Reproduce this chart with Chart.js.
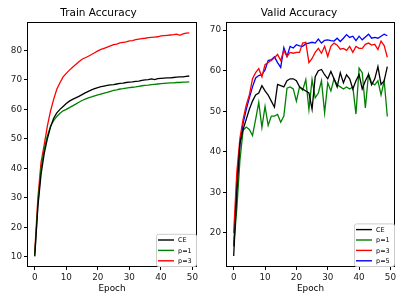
<!DOCTYPE html>
<html>
<head>
<meta charset="utf-8">
<script src="https://cdn.jsdelivr.net/npm/chart.js@4/dist/chart.umd.min.js"></script>
<style>
  html, body { margin: 0; padding: 0; background: #fff; }
  #wrap { position: relative; width: 407px; height: 305px; }
  #train { position: absolute; left: 0; top: 0; }
  #valid { position: absolute; left: 203px; top: 0; }
</style>
</head>
<body>
<div id="wrap">
  <canvas id="train" width="203" height="305"></canvas>
  <canvas id="valid" width="204" height="305"></canvas>
</div>
<script>
// epochs on the x axis
const epochs = [0,1,2,3,4,5,6,7,8,9,10,11,12,13,14,15,16,17,18,19,20,21,22,23,24,
  25,26,27,28,29,30,31,32,33,34,35,36,37,38,39,40,41,42,43,44,45,46,47,48,49];

// train accuracy
const trainCE = [10.2,27,38,45,50,54,57,58.8,60,61,62,62.8,63.4,63.9,64.4,65,65.6,66.1,66.6,67,
  67.4,67.7,67.9,68.1,68.3,68.4,68.6,68.8,68.9,69.1,69.2,69.3,69.5,69.6,69.8,70,70.1,70.3,70.1,70.4,
  70.5,70.6,70.7,70.7,70.8,70.9,71,71,71.2,71.3];
const trainP1 = [10.5,28,40,46.5,51,54.3,56.2,57.6,58.7,59.5,60,60.6,61.2,61.8,62.4,63,63.5,63.9,64.2,64.6,
  64.9,65.2,65.5,65.8,66.1,66.4,66.6,66.9,67,67.2,67.4,67.5,67.6,67.8,68,68.1,68.2,68.4,68.5,68.6,
  68.7,68.8,68.9,69,69,69.1,69.1,69.2,69.2,69.3];
const trainP3 = [11.5,30,42,48,54.3,59.4,63.4,66.8,69,71,72.2,73.3,74.3,75.2,76.1,77,77.5,78,78.6,79.2,
  79.8,80.3,80.7,81.1,81.5,81.9,82.1,82.5,82.7,82.9,83.2,83.3,83.6,83.8,84,84.1,84.3,84.4,84.5,84.6,
  84.9,85,85.1,85.2,85.3,85.5,85.1,85.6,85.8,85.9];

// valid accuracy
const validCE = [14.3,30,42,45.5,48,50.5,52.5,54,54.5,56.3,55,54,52.5,51,56.6,56.3,56,57.5,58,58,
  57.5,56,55.5,55,54.5,50.5,58.5,60,60.3,59,58,59.8,58,56,59.5,57,59,58,55.5,57.5,
  59,55.5,57.5,59,56.5,58,61,56.6,57.5,61];
const validP1 = [16.7,26,38,45.3,46.1,45.5,44,48,52.2,46,51.2,46.5,48.8,48.8,49.2,47.3,48.8,55.7,56,55.5,
  52.5,56,55.2,57.8,50.4,57.8,53.3,54.5,57.5,49.6,57,55,58,56.5,56,55.5,56,55.5,56,49.3,
  60.6,59.5,50.8,59.2,57,56.5,57.5,54,57.5,48.7];
const validP3 = [20,35,43.4,48,51.5,54,58,59.5,60.5,58.5,61.5,62,62.5,63.2,64,62.5,65,63.5,64.5,64.3,
  64.5,64.5,66.8,67,62,63,64.5,65.5,64.3,66,63.5,66,66.8,66.3,65.3,65.5,65,66,64.5,66,
  65.5,65.5,66.5,66.8,66.3,66.5,65.2,67.3,66.2,63.3];
const validP5 = [16.7,32,42,47,50.4,53.3,56,58.2,58.8,59,60.2,62.5,62.7,63.4,62,60.8,65.7,63.5,66,65.6,
  66.4,66.1,66,66.6,66.8,67,66.8,67.8,66.8,67.5,67.6,67.4,67.3,68,67.2,68,68.9,68.2,68.5,67.4,
  68.5,67.6,68.3,69,68,68.2,68,68.5,69,68.6];

// tick labels
const xTicks = [0, 10, 20, 30, 40, 50];
const trainYTicks = [10, 20, 30, 40, 50, 60, 70, 80];
const validYTicks = [20, 30, 40, 50, 60, 70];

Chart.defaults.font.family = "'DejaVu Sans', sans-serif";
Chart.defaults.color = '#000';

// box around the plot area, like matplotlib spines
const framePlugin = {
  id: 'frame',
  afterDatasetsDraw(chart) {
    const a = chart.chartArea;
    const ctx = chart.ctx;
    ctx.save();
    ctx.strokeStyle = '#000';
    ctx.lineWidth = 1;
    ctx.strokeRect(Math.round(a.left) + 0.5, Math.round(a.top) + 0.5,
      Math.round(a.right - a.left) - 1, Math.round(a.bottom - a.top) - 1);
    ctx.restore();
  }
};

// legend in the lower right corner of the plot area
const cornerLegend = {
  id: 'cornerLegend',
  afterDatasetsDraw(chart) {
    const a = chart.chartArea;
    const ctx = chart.ctx;
    const sets = chart.data.datasets;
    const w = 41, row = 10.4;
    const h = row * sets.length + 2;
    const x0 = a.right - w, y0 = a.bottom - h;
    ctx.save();
    ctx.fillStyle = 'rgba(255,255,255,0.85)';
    ctx.strokeStyle = '#cccccc';
    ctx.lineWidth = 1;
    ctx.beginPath();
    ctx.roundRect(x0 + 0.5, y0 + 0.5, w - 1, h - 1, 2);
    ctx.fill();
    ctx.stroke();
    ctx.font = "6.5px 'DejaVu Sans'";
    ctx.textBaseline = 'middle';
    sets.forEach((ds, i) => {
      const y = y0 + 1 + row * (i + 0.5);
      ctx.strokeStyle = ds.borderColor;
      ctx.lineWidth = 1.4;
      ctx.beginPath();
      ctx.moveTo(x0 + 2, y);
      ctx.lineTo(x0 + 18, y);
      ctx.stroke();
      ctx.fillStyle = '#000';
      ctx.fillText(ds.label, x0 + 22, y + 0.5);
    });
    ctx.restore();
  }
};

function line(label, data, color) {
  return { label: label, data: data, borderColor: color, backgroundColor: color,
    borderWidth: 1.3, pointRadius: 0, tension: 0, fill: false };
}

function makeChart(id, title, sets, yMin, yMax, yTicks, yWidth, padRight) {
  return new Chart(document.getElementById(id), {
    type: 'line',
    data: { labels: epochs, datasets: sets },
    options: {
      responsive: false,
      animation: false,
      layout: { padding: { left: 0, right: padRight, top: 0, bottom: 0 } },
      plugins: {
        legend: { display: false },
        tooltip: { enabled: false },
        title: { display: true, text: title, color: '#000',
          font: { size: 10.5, weight: 'normal' }, padding: { top: 7, bottom: 2.4 } }
      },
      scales: {
        x: {
          type: 'linear', min: -2.45, max: 51.45,
          afterBuildTicks: s => { s.ticks = xTicks.map(v => ({ value: v })); },
          afterFit: s => { s.height = 38; },
          grid: { drawOnChartArea: false, drawTicks: true, tickLength: 3, color: '#000' },
          border: { display: false },
          ticks: { padding: 2, color: '#222', font: { size: 8.8 }, maxRotation: 0 },
          title: { display: true, text: 'Epoch', color: '#000', font: { size: 8.8 },
            padding: { top: 0, bottom: 11 } }
        },
        y: {
          min: yMin, max: yMax,
          afterBuildTicks: s => { s.ticks = yTicks.map(v => ({ value: v })); },
          afterFit: s => { s.width = yWidth; },
          grid: { drawOnChartArea: false, drawTicks: true, tickLength: 3, color: '#000' },
          border: { display: false },
          ticks: { padding: 2, color: '#222', font: { size: 8.8 } }
        }
      }
    },
    plugins: [framePlugin, cornerLegend]
  });
}

makeChart('train', 'Train Accuracy', [
  line('CE', trainCE, '#000000'),
  line('p=1', trainP1, '#008000'),
  line('p=3', trainP3, '#ff0000')
], 6.6, 89.6, trainYTicks, 27, 6);

makeChart('valid', 'Valid Accuracy', [
  line('CE', validCE, '#000000'),
  line('p=1', validP1, '#008000'),
  line('p=3', validP3, '#ff0000'),
  line('p=5', validP5, '#0000ff')
], 11.6, 72, validYTicks, 23, 12);
</script>
</body>
</html>
